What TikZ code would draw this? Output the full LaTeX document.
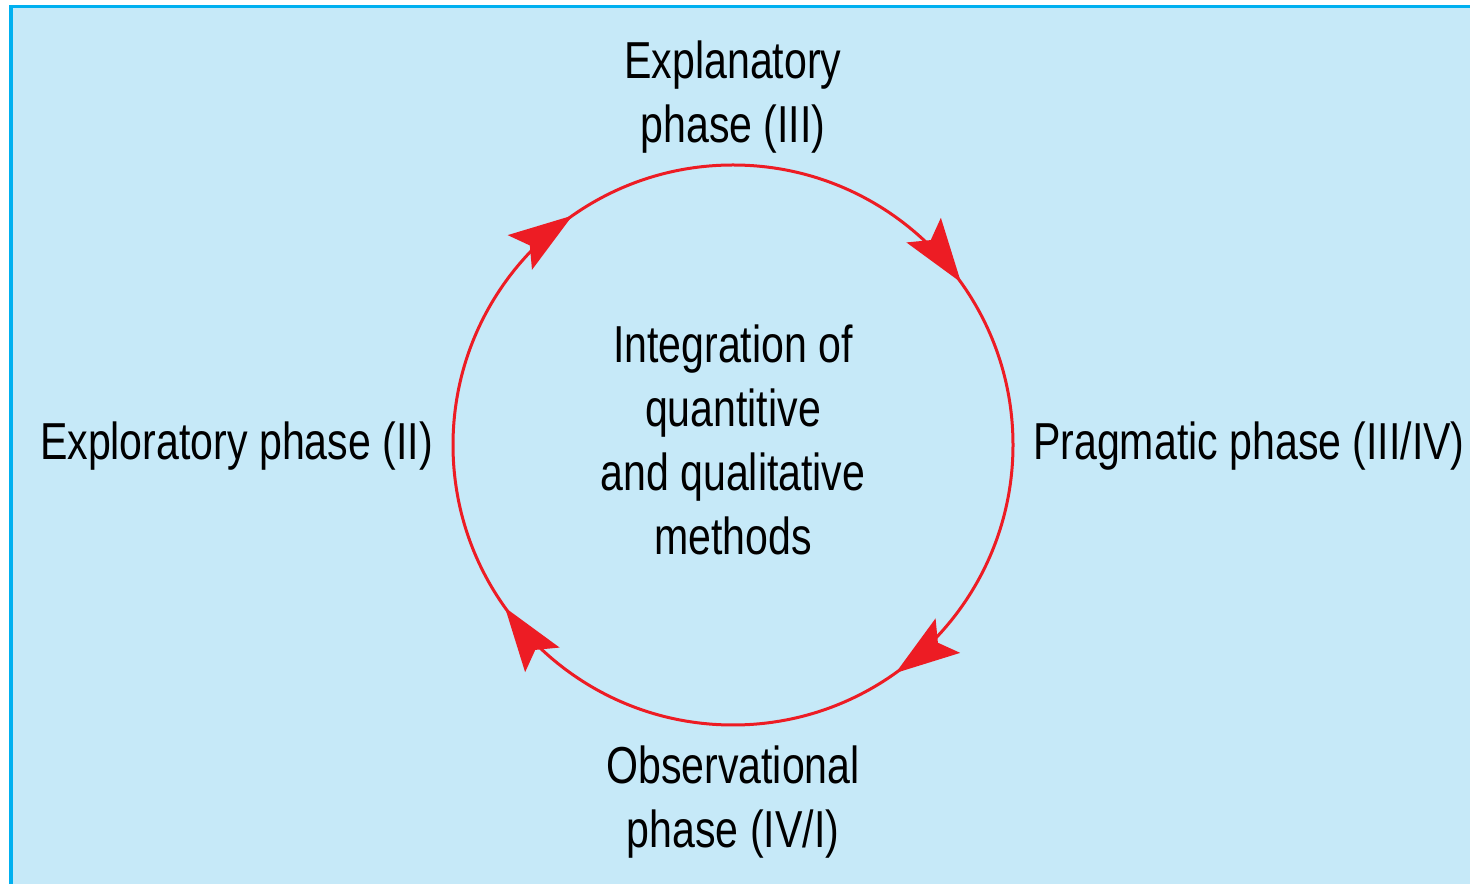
\documentclass[tikz,border=0pt]{standalone}
\usepackage{fontspec}
\setmainfont[FakeStretch=0.79]{Liberation Sans}
\usetikzlibrary{arrows.meta,decorations.markings}
\definecolor{panelfill}{RGB}{198,233,248}
\definecolor{panelrule}{RGB}{0,176,240}
\definecolor{cyclered}{RGB}{237,28,36}
\begin{document}
\begin{tikzpicture}[x=1pt,y=1pt,
  phase/.style={font=\fontsize{52}{64}\selectfont, inner sep=0pt, align=center, text=black},
  flowtip/.tip={Stealth[length=64pt, width=42pt, inset=12pt]},
  ring/.style={draw=cyclered, line width=3pt,
    postaction={decorate},
    decoration={markings,
      % the circle runs anticlockwise from 0 degrees, so the tips are reversed
      mark=at position 0.0986 with {\arrowreversed[cyclered]{flowtip}},
      mark=at position 0.3472 with {\arrowreversed[cyclered]{flowtip}},
      mark=at position 0.5986 with {\arrowreversed[cyclered]{flowtip}},
      mark=at position 0.8486 with {\arrowreversed[cyclered]{flowtip}}}}]
\useasboundingbox (0,0) rectangle (1470,884);
% panel with a rule along its top and left edges
\fill[panelfill] (11,0) rectangle (1470,877.5);
\draw[panelrule, line width=3.5pt] (11,0) -- (11,877.5) -- (1470,877.5);

% the cycle
\coordinate (hub) at (733,439);
\draw[ring] (hub) circle[radius=280];

% labels (a multi-line node's base is the baseline of its last line)
\node[phase, anchor=base] (explan) at (733,741) {Explanatory\\phase (III)};
\node[phase, anchor=base] (integ) at (733,329) {Integration of\\quantitive\\and qualitative\\methods};
\node[phase, anchor=base east] (explor) at (433,424) {Exploratory phase (II)};
\node[phase, anchor=base west] (pragm) at (1033,424) {Pragmatic phase (III/IV)};
\node[phase, anchor=base] (observ) at (733,37) {Observational\\phase (IV/I)};
\end{tikzpicture}
\end{document}
